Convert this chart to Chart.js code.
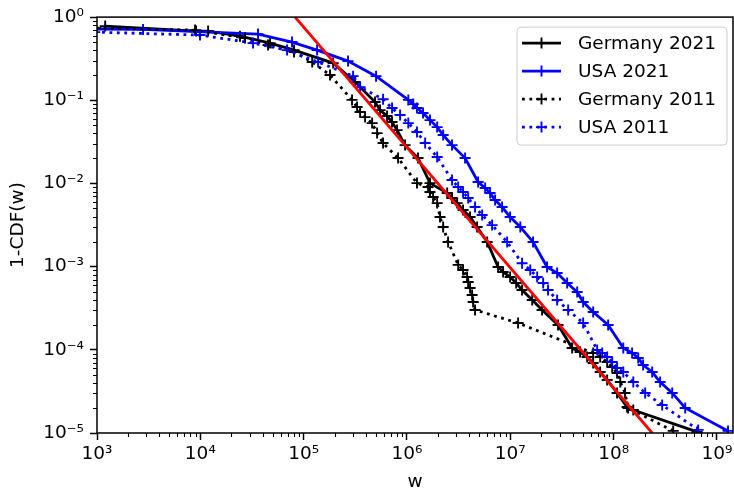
<!DOCTYPE html>
<html>
<head>
<meta charset="utf-8">
<script src="https://cdn.jsdelivr.net/npm/chart.js@4.4.1/dist/chart.umd.min.js"></script>
<style>
  html, body { margin: 0; padding: 0; background: #fff; }
</style>
</head>
<body>
<canvas id="chart" width="734" height="493"></canvas>
<script>
const FONT = "'DejaVu Sans', sans-serif";
const FS = 18.5;

// tick labels (powers of ten)
const xTicks = [1e3, 1e4, 1e5, 1e6, 1e7, 1e8, 1e9];
const yTicks = [1e-5, 1e-4, 1e-3, 1e-2, 1e-1, 1];

// Germany 2021
const gerW21 = [1.2e3, 9.1e3, 1.19e4, 2.42e4, 4.73e4, 8.08e4, 1.93e5, 3.15e5, 4.91e5, 5.49e5,
  6.42e5, 7.17e5, 8.02e5, 9.59e5, 1.28e6, 1.67e6, 2.45e6, 2.73e6, 3.06e6, 3.49e6,
  4.08e6, 4.77e6, 5.97e6, 7.62e6, 8.52e6, 9.96e6, 1.14e7, 1.30e7, 1.63e7, 2.03e7,
  2.90e7, 3.97e7, 4.74e7, 5.54e7, 6.34e7, 7.41e7, 8.66e7, 1.08e8, 1.35e8, 1.55e8, 6.43e8];
const gerP21 = [0.78, 0.68, 0.68, 0.59, 0.487, 0.401, 0.280, 0.166, 0.0952, 0.0762,
  0.0646, 0.0547, 0.0438, 0.0289, 0.0202, 0.0101, 0.00767, 0.00668, 0.00581, 0.00479,
  0.00395, 0.00299, 0.00198, 0.000989, 0.000862, 0.00075, 0.000635, 0.000523, 0.000397, 0.000301,
  0.000199, 0.000105, 9.41e-5, 8.19e-5, 6.94e-5, 5.41e-5, 4.34e-5, 3.03e-5, 2.05e-5, 1.89e-5, 1.03e-5];

// USA 2021
const usaW21 = [9.5e2, 2.79e3, 3.62e4, 7.72e4, 1.35e5, 2.69e5, 5.02e5, 1.03e6, 1.15e6, 1.25e6,
  1.43e6, 1.67e6, 1.96e6, 2.24e6, 2.73e6, 3.65e6, 4.88e6, 5.71e6, 6.38e6, 7.13e6,
  8.33e6, 9.96e6, 1.25e7, 1.66e7, 2.27e7, 2.84e7, 3.55e7, 4.44e7, 5.07e7, 6.34e7,
  8.85e7, 1.24e8, 1.51e8, 1.73e8, 1.93e8, 2.36e8, 2.82e8, 3.69e8, 4.93e8, 1.28e9];
const usaP21 = [0.72, 0.71, 0.625, 0.501, 0.401, 0.296, 0.195, 0.101, 0.090, 0.0806,
  0.0702, 0.0578, 0.0476, 0.0382, 0.0289, 0.0202, 0.0104, 0.00881, 0.00767, 0.00632,
  0.00521, 0.00395, 0.00299, 0.00198, 0.000989, 0.000838, 0.000635, 0.000495, 0.000375, 0.000285,
  0.000199, 0.000105, 9.15e-5, 7.97e-5, 6.57e-5, 5.41e-5, 4.1e-5, 3.03e-5, 2.0e-5, 1.06e-5];

// Germany 2011
const gerW11 = [9.8e2, 8.89e3, 2.71e4, 4.52e4, 8.08e4, 1.21e5, 1.80e5, 2.94e5, 3.29e5, 3.52e5,
  3.93e5, 4.60e5, 5.14e5, 5.87e5, 8.20e5, 1.25e6, 1.60e6, 1.67e6, 1.79e6, 1.96e6,
  2.09e6, 2.24e6, 2.50e6, 3.13e6, 3.49e6, 3.82e6, 3.91e6, 4.08e6, 4.27e6, 4.37e6,
  4.56e6, 1.19e7, 6.34e7, 7.41e7, 8.66e7, 9.68e7, 1.08e8, 1.16e8, 1.29e8, 1.38e8, 3.77e8];
const gerP11 = [0.738, 0.698, 0.559, 0.461, 0.380, 0.288, 0.201, 0.101, 0.0829, 0.0722,
  0.0628, 0.0532, 0.0403, 0.0306, 0.0202, 0.0101, 0.00905, 0.00788, 0.00686, 0.00581,
  0.00395, 0.00299, 0.00198, 0.00105, 0.00091, 0.00075, 0.000653, 0.000553, 0.000456, 0.000375,
  0.000301, 0.00021, 9.15e-5, 8.19e-5, 7.14e-5, 6.21e-5, 5.26e-5, 4.1e-5, 3.03e-5, 2.0e-5, 1.06e-5];

// USA 2011
const usaW11 = [9.5e2, 9.93e3, 3.24e4, 6.91e4, 1.38e5, 3.01e5, 3.52e5, 5.87e5, 7.17e5, 8.58e5,
  1.03e6, 1.25e6, 1.50e6, 1.96e6, 2.73e6, 3.13e6, 3.49e6, 3.91e6, 4.56e6, 5.34e6,
  6.67e6, 9.32e6, 1.30e7, 1.56e7, 1.82e7, 2.08e7, 2.32e7, 2.84e7, 3.63e7, 5.07e7,
  6.93e7, 7.75e7, 8.66e7, 9.68e7, 1.08e8, 1.24e8, 1.55e8, 2.02e8, 2.95e8, 6.58e8];
const usaP11 = [0.66, 0.608, 0.487, 0.401, 0.288, 0.195, 0.144, 0.103, 0.0806, 0.0664,
  0.0532, 0.0415, 0.0306, 0.0208, 0.011, 0.00905, 0.00788, 0.00668, 0.00521, 0.00417,
  0.00316, 0.00198, 0.0011, 0.00091, 0.00075, 0.000635, 0.000523, 0.000397, 0.000301, 0.00021,
  9.95e-5, 9.15e-5, 8.19e-5, 7.14e-5, 6.04e-5, 5.41e-5, 4.1e-5, 3.03e-5, 2.17e-5, 1.09e-5];

// red power-law fit, end points
const fitW = [8.26e4, 2.36e8];
const fitP = [1, 1e-5];

const pts = (xs, ys) => xs.map((x, i) => ({ x, y: ys[i] }));

const SUP = { "0": "\u2070", "1": "\u00b9", "2": "\u00b2", "3": "\u00b3", "4": "\u2074",
  "5": "\u2075", "6": "\u2076", "7": "\u2077", "8": "\u2078", "9": "\u2079", "-": "\u207b" };
const pow10Label = (v) =>
  "10" + String(Math.round(Math.log10(v))).split("").map((c) => SUP[c]).join("");

const LW = 2.8;
const DOT = [2.8, 4.6];
const PLOT_RIGHT = 733;

function series(label, xs, ys, color, dash, order) {
  return {
    label,
    data: pts(xs, ys),
    showLine: true,
    borderColor: color,
    backgroundColor: color,
    borderWidth: LW,
    borderDash: dash,
    borderCapStyle: "butt",
    pointStyle: "cross",
    pointRadius: 5.5,
    pointBorderWidth: 1.9,
    pointBorderColor: color,
    pointHoverRadius: 5.5,
    clip: 0,
    order,
    inLegend: true,
  };
}

// chart.js keeps a few px on the right for the last label; pin the plot edge
const pinArea = {
  id: "pinArea",
  afterLayout(chart) {
    const a = chart.chartArea;
    a.right = PLOT_RIGHT;
    a.width = a.right - a.left;
    const x = chart.scales.x;
    x.right = PLOT_RIGHT;
    x.width = x.right - x.left;
    x.configure();
  },
};

const framePlugin = {
  id: "frame",
  afterDatasetsDraw(chart) {
    const { ctx, chartArea: a, scales } = chart;
    ctx.save();
    ctx.strokeStyle = "#000";
    ctx.lineWidth = 1.5;
    ctx.strokeRect(a.left, a.top, a.right - a.left, a.bottom - a.top);
    // minor log ticks
    ctx.lineWidth = 1.1;
    ctx.beginPath();
    xTicks.forEach((d) => {
      for (let m = 2; m <= 9; m++) {
        const v = d * m;
        if (v > scales.x.max) continue;
        const px = Math.round(scales.x.getPixelForValue(v)) + 0.5;
        ctx.moveTo(px, a.bottom);
        ctx.lineTo(px, a.bottom + 4);
      }
    });
    yTicks.forEach((d) => {
      for (let m = 2; m <= 9; m++) {
        const v = d * m;
        if (v > scales.y.max) continue;
        const py = Math.round(scales.y.getPixelForValue(v)) + 0.5;
        ctx.moveTo(a.left, py);
        ctx.lineTo(a.left - 4, py);
      }
    });
    ctx.stroke();
    ctx.restore();
  },
};

const legendPlugin = {
  id: "boxLegend",
  afterDraw(chart) {
    const { ctx, chartArea: a } = chart;
    const w = 210, h = 118, r = 4;
    const x0 = a.right - 6 - w, y0 = a.top + 10;
    ctx.save();
    ctx.beginPath();
    ctx.moveTo(x0 + r, y0);
    ctx.arcTo(x0 + w, y0, x0 + w, y0 + h, r);
    ctx.arcTo(x0 + w, y0 + h, x0, y0 + h, r);
    ctx.arcTo(x0, y0 + h, x0, y0, r);
    ctx.arcTo(x0, y0, x0 + w, y0, r);
    ctx.closePath();
    ctx.fillStyle = "rgba(255,255,255,0.8)";
    ctx.fill();
    ctx.strokeStyle = "#cccccc";
    ctx.lineWidth = 1;
    ctx.stroke();

    const items = chart.data.datasets.filter((d) => d.inLegend);
    items.forEach((ds, i) => {
      const cy = y0 + 16 + i * 28;
      ctx.strokeStyle = ds.borderColor;
      ctx.lineWidth = ds.borderWidth;
      ctx.lineCap = "butt";
      ctx.setLineDash(ds.borderDash || []);
      ctx.beginPath();
      ctx.moveTo(x0 + 5, cy);
      ctx.lineTo(x0 + 44, cy);
      ctx.stroke();
      ctx.setLineDash([]);
      ctx.lineWidth = 1.9;
      const cx = x0 + 24.5;
      ctx.beginPath();
      ctx.moveTo(cx - 5.5, cy);
      ctx.lineTo(cx + 5.5, cy);
      ctx.moveTo(cx, cy - 5.5);
      ctx.lineTo(cx, cy + 5.5);
      ctx.stroke();
      ctx.fillStyle = "#000";
      ctx.font = FS + "px " + FONT;
      ctx.textBaseline = "middle";
      ctx.textAlign = "left";
      ctx.fillText(ds.label, x0 + 61, cy + 1);
    });
    ctx.restore();
  },
};

const axisCommon = {
  type: "logarithmic",
  grid: {
    drawOnChartArea: false,
    drawTicks: true,
    tickLength: 7,
    tickWidth: 1.5,
    tickColor: "#000",
  },
  border: { display: false },
};

new Chart(document.getElementById("chart"), {
  type: "scatter",
  data: {
    datasets: [
      series("Germany 2021", gerW21, gerP21, "#000000", [], 5),
      series("USA 2021", usaW21, usaP21, "#0000ff", [], 4),
      series("Germany 2011", gerW11, gerP11, "#000000", DOT, 3),
      series("USA 2011", usaW11, usaP11, "#0000ff", DOT, 2),
      {
        label: "fit",
        data: pts(fitW, fitP),
        showLine: true,
        borderColor: "#ff0000",
        borderWidth: LW,
        pointRadius: 0,
        pointHoverRadius: 0,
        clip: 0,
        order: 1,
      },
    ],
  },
  options: {
    responsive: false,
    animation: false,
    events: [],
    layout: { padding: { top: 17, right: 1, left: 0, bottom: 0 } },
    plugins: { legend: { display: false }, tooltip: { enabled: false } },
    scales: {
      x: {
        ...axisCommon,
        min: 1e3,
        max: 1.43e9,
        afterBuildTicks: (s) => { s.ticks = xTicks.map((v) => ({ value: v, major: true })); },
        afterFit: (s) => { s.height = 60; },
        ticks: {
          autoSkip: false,
          maxRotation: 0,
          padding: 3,
          color: "#000",
          font: { family: FONT, size: FS },
          callback: (v) => pow10Label(v),
        },
        title: {
          display: true,
          text: "w",
          color: "#000",
          font: { family: FONT, size: FS },
          padding: { top: 0, bottom: 0 },
        },
      },
      y: {
        ...axisCommon,
        min: 1e-5,
        max: 1,
        afterBuildTicks: (s) => { s.ticks = yTicks.map((v) => ({ value: v, major: true })); },
        afterFit: (s) => { s.width = 97; },
        ticks: {
          autoSkip: false,
          padding: 6,
          color: "#000",
          font: { family: FONT, size: FS },
          callback: (v) => pow10Label(v),
        },
        title: {
          display: true,
          text: "1-CDF(w)",
          color: "#000",
          font: { family: FONT, size: FS },
          padding: { top: 7, bottom: 0 },
        },
      },
    },
  },
  plugins: [pinArea, framePlugin, legendPlugin],
});
</script>
</body>
</html>
